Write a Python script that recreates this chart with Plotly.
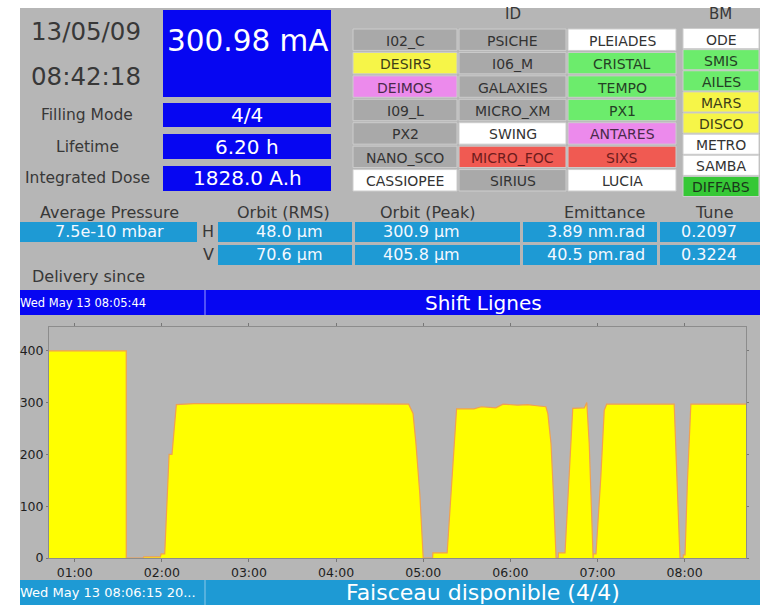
import plotly.graph_objects as go

# ---------------- DATA ----------------
chart_date = "2009-05-13"
current_times = [
    "00:42:18", "01:35:30", "01:35:31", "01:47:00", "01:47:30", "01:59:00", "01:59:30",
    "02:02:00", "02:05:00", "02:07:00", "02:10:00", "02:22:00", "03:30:00", "04:50:00",
    "04:53:00", "04:55:00", "04:57:40", "05:00:00", "05:06:30", "05:06:40", "05:16:30",
    "05:23:00", "05:35:00", "05:40:00", "05:50:00", "05:55:00", "06:05:00", "06:12:00",
    "06:18:00", "06:24:30", "06:25:50", "06:28:00", "06:29:40", "06:31:30", "06:33:00",
    "06:33:10", "06:37:40", "06:43:00", "06:51:00", "06:52:40", "06:54:20", "06:57:00",
    "06:57:10", "06:59:00", "07:02:20", "07:04:40", "07:06:20", "07:52:50", "07:54:00",
    "07:55:30", "07:56:50", "07:59:00", "07:59:10", "08:00:20", "08:02:00", "08:04:20",
    "08:42:18",
]
current_mA = [
    400, 400, 0, 0, 2, 2, 8,
    8, 200, 200, 296, 298, 298, 297,
    279, 221, 124, 0, 0, 10, 10,
    288, 288, 292, 290, 297, 295, 296,
    294, 292, 279, 221, 124, 0, 0,
    10, 10, 289, 290, 300, 221, 0,
    8, 8, 157, 285, 297, 297, 221,
    98, 0, 0, 6, 6, 150, 297,
    297,
]
y_ticks = [0, 100, 200, 300, 400]

date_text = "13/05/09"
time_text = "08:42:18"
beam_current = "300.98 mA"
info_labels = ["Filling Mode", "Lifetime", "Integrated Dose"]
info_values = ["4/4", "6.20 h", "1828.0 A.h"]

id_names = [
    ["I02_C", "PSICHE", "PLEIADES"],
    ["DESIRS", "I06_M", "CRISTAL"],
    ["DEIMOS", "GALAXIES", "TEMPO"],
    ["I09_L", "MICRO_XM", "PX1"],
    ["PX2", "SWING", "ANTARES"],
    ["NANO_SCO", "MICRO_FOC", "SIXS"],
    ["CASSIOPEE", "SIRIUS", "LUCIA"],
]
id_states = [
    ["off", "off", "white"],
    ["yellow", "off", "green"],
    ["pink", "off", "green"],
    ["off", "off", "green"],
    ["off", "white", "pink"],
    ["off", "red", "red"],
    ["white", "off", "white"],
]
bm_names = ["ODE", "SMIS", "AILES", "MARS", "DISCO", "METRO", "SAMBA", "DIFFABS"]
bm_states = ["white", "green", "green", "yellow", "yellow", "white", "white", "dgreen"]

param_headers = ["Average Pressure", "Orbit (RMS)", "Orbit (Peak)", "Emittance", "Tune"]
pressure_value = "7.5e-10 mbar"
plane_labels = ["H", "V"]
h_values = ["48.0 µm", "300.9 µm", "3.89 nm.rad", "0.2097"]
v_values = ["70.6 µm", "405.8 µm", "40.5 pm.rad", "0.3224"]

delivery_label = "Delivery since"
delivery_since = "Wed May 13 08:05:44"
shift_text = "Shift Lignes"
status_time = "Wed May 13 08:06:15 20..."
status_text = "Faisceau disponible (4/4)"

# ---------------- STYLE ----------------
W, H = 760, 605
FONT = "DejaVu Sans"
BG = "#b6b6b6"
BLUE = "#0606f2"
CYAN = "#1e9ad4"
CELL = {"off": "#a9a9a9", "white": "#ffffff", "yellow": "#f6f548", "green": "#6cec6c",
        "pink": "#ec8aec", "red": "#f05a52", "dgreen": "#36c836"}
TXT = {"off": "#333333", "white": "#333333", "yellow": "#3e3e18", "green": "#254025",
       "pink": "#4a2a4a", "red": "#6e1c1c", "dgreen": "#1a381a"}
LABEL = "#383838"


def px(x):
    return x / W


def py(y):
    return 1 - y / H


shapes = []
annots = []


def rect(x0, y0, x1, y1, fill, line=None, lw=1):
    shapes.append(dict(type="rect", xref="paper", yref="paper", x0=px(x0), x1=px(x1),
                       y0=py(y1), y1=py(y0), fillcolor=fill, layer="below",
                       line=dict(color=line or fill, width=lw if line else 0)))


def vline(x, y0, y1, color, w=1):
    shapes.append(dict(type="line", xref="paper", yref="paper", x0=px(x), x1=px(x),
                       y0=py(y1), y1=py(y0), line=dict(color=color, width=w), layer="below"))


def text(x, y, s, size, color=LABEL, anchor="center"):
    annots.append(dict(xref="paper", yref="paper", x=px(x), y=py(y), text=s, showarrow=False,
                       xanchor=anchor, yanchor="middle",
                       font=dict(family=FONT, size=size, color=color)))


# background
rect(0, 0, W, H, "#ffffff")
rect(20, 8, W, H, BG)

# top-left block
text(86, 32, date_text, 24.5)
text(86, 77, time_text, 24.5)
rect(163, 10, 331, 97, BLUE)
text(248, 41, beam_current, 29.5, "#ffffff")
info_rows = [(103, 127), (134, 159), (166, 191)]
for (y0, y1), lab, val in zip(info_rows, info_labels, info_values):
    text(87, (y0 + y1) / 2, lab, 15.5)
    rect(163, y0, 331, y1, BLUE)
    text(247, (y0 + y1) / 2, val, 20, "#ffffff")

# ID grid
text(513, 14, "ID", 15)
col_edges = [352, 458, 567, 677]
row_top, row_bot = 28, 192
rh = (row_bot - row_top) / len(id_names)
for r, row in enumerate(id_names):
    for c, name in enumerate(row):
        st = id_states[r][c]
        y0 = row_top + r * rh
        rect(col_edges[c] + 1, y0 + 1, col_edges[c + 1] - 1, y0 + rh - 1, CELL[st], "#cdcdcd", 1)
        text((col_edges[c] + col_edges[c + 1]) / 2, y0 + rh / 2 + 1, name, 14, TXT[st])

# BM column
text(720, 14, "BM", 15)
bm_top, bm_bot = 28, 197
bh = (bm_bot - bm_top) / len(bm_names)
for i, (name, st) in enumerate(zip(bm_names, bm_states)):
    y0 = bm_top + i * bh
    rect(683, y0 + 0.5, 759, y0 + bh - 0.5, CELL[st], "#cdcdcd", 1)
    text(721, y0 + bh / 2 + 1, name, 14, TXT[st])

# parameters block
header_x = [109, 283, 428, 604, 714]
for hx, h in zip(header_x, param_headers):
    text(hx, 212, h, 16)
rows_y = [(222, 242), (245, 265)]
rect(20, 222, 197, 242, CYAN)
text(109, 232, pressure_value, 16, "#f4f8ff")
box_edges = [(218, 352), (355, 520), (523, 657), (660, 760)]
val_x = [289, 421, 596, 709]
for (y0, y1), plane, vals in zip(rows_y, plane_labels, [h_values, v_values]):
    text(208, (y0 + y1) / 2, plane, 16)
    for (x0, x1), vx, v in zip(box_edges, val_x, vals):
        rect(x0, y0, x1, y1, CYAN)
        text(vx, (y0 + y1) / 2, v, 16, "#f4f8ff")

text(88, 277, delivery_label, 16)
rect(20, 290, W, 315, BLUE)
vline(205, 290, 315, "#9a9aff", 1)
text(18, 302.5, delivery_since, 11.5, "#ffffff", "left")
text(483, 302.5, shift_text, 20, "#ffffff")

rect(20, 580, W, H, CYAN)
vline(205, 580, 605, "#8cc8e8", 1)
text(18, 592.5, status_time, 13, "#ffffff", "left")
text(483, 592.5, status_text, 22, "#ffffff")

# ---------------- CHART ----------------
xs = [f"{chart_date} {t}" for t in current_times]
fig = go.Figure()
fig.add_trace(go.Scatter(x=xs, y=current_mA, mode="lines", fill="tozeroy",
                         fillcolor="#ffff00", line=dict(color="#f0a050", width=1.2),
                         hoverinfo="skip", showlegend=False))

plot_x0, plot_x1, plot_y0, plot_y1 = 49, 746, 327, 558
fig.update_layout(
    width=W, height=H, autosize=False,
    margin=dict(l=0, r=0, t=0, b=0, pad=0, autoexpand=False),
    paper_bgcolor="#ffffff", plot_bgcolor="#ffffff",
    shapes=shapes, annotations=annots, showlegend=False,
    xaxis=dict(domain=[px(plot_x0), px(plot_x1)], type="date", automargin=False,
               range=[xs[0], xs[-1]], tick0=f"{chart_date} 01:00:00", dtick=3600000,
               tickformat="%H:%M", showgrid=False, zeroline=False,
               showline=True, linecolor="#8c8c8c", linewidth=1, mirror="ticks",
               ticks="outside", ticklen=3, tickcolor="#777",
               tickfont=dict(family=FONT, size=12.5, color="#1e1e1e")),
    yaxis=dict(domain=[py(plot_y1), py(plot_y0)], range=[0, 446], tickvals=y_ticks,
               automargin=False, showgrid=False, zeroline=False,
               showline=True, linecolor="#8c8c8c", linewidth=1, mirror="ticks",
               ticks="outside", ticklen=2, tickcolor="#777",
               tickfont=dict(family=FONT, size=12.5, color="#1e1e1e")),
)

fig.write_html("out.html", config={"displayModeBar": False},
               post_script="document.body.style.margin='0';document.body.style.overflow='hidden';")
